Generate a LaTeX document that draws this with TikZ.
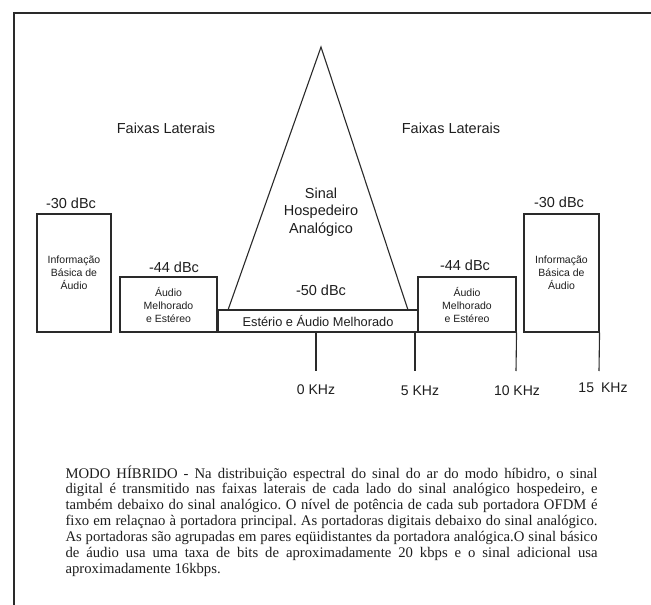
\documentclass[tikz,border=0pt]{standalone}
\usepackage{fontspec}
\setmainfont{Liberation Serif}
\newfontfamily\arialf{Liberation Sans}
\definecolor{ink}{HTML}{2A2A2A}
\definecolor{txt}{HTML}{1E1E1E}
\begin{document}
\begin{tikzpicture}[x=1pt,y=-1pt,
  line width=1.1pt, draw=ink,
  lbl/.style={font=\arialf\fontsize{14.5}{17}\selectfont, text=txt, inner sep=0pt},
  box/.style={draw=ink, line width=1.1pt, inner sep=0pt, align=center, text=txt,
              font=\arialf\fontsize{10.5}{13}\selectfont},
  tick/.style={draw=ink, line width=1.1pt}]
\useasboundingbox (0,0) rectangle (651,605);
\fill[white] (0,0) rectangle (651,605);
\begin{scope}
  \clip (0,0) rectangle (651,605);
  \draw[line width=2pt] (14,640) -- (14,13) -- (680,13);
\end{scope}

% analog host triangle
\coordinate (apex) at (321,47);
\coordinate (tl) at (228,310);
\coordinate (tr) at (408,310);
\draw (tl) -- (apex) -- (tr);

% boxes
\node[box, minimum width=74pt, minimum height=118pt] (l30) at (74,273) {Informação\\Básica de\\Áudio};
\node[box, minimum width=97pt, minimum height=55pt] (l44) at (168.5,304.5) {Áudio\\Melhorado\\e Estéreo};
\node[box, minimum width=200pt, minimum height=22pt, font=\arialf\fontsize{12.8}{15}\selectfont] (est) at (318,321) {\raisebox{-1pt}{Estério e Áudio Melhorado}};
\node[box, minimum width=98pt, minimum height=55pt] (r44) at (467,304.5) {Áudio\\Melhorado\\e Estéreo};
\node[box, minimum width=75pt, minimum height=118pt] (r30) at (561.5,273) {Informação\\Básica de\\Áudio};

% level labels
\node[lbl] (t30l) at (71,203) {-30 dBc};
\node[lbl] (t44l) at (174,267) {-44 dBc};
\node[lbl] (t50) at (321,290) {-50 dBc};
\node[lbl] (t44r) at (465,265) {-44 dBc};
\node[lbl] (t30r) at (559,202) {-30 dBc};

\node[lbl] (fl) at (166,128) {Faixas Laterais};
\node[lbl] (fr) at (451,128) {Faixas Laterais};
\node[lbl, align=center, font=\arialf\fontsize{14.5}{17.5}\selectfont] (host) at (321,212) {Sinal\\Hospedeiro\\Analógico};

% frequency ticks
\coordinate (k0) at (316,371);
\coordinate (k5) at (415,371);
\coordinate (k10) at (516,371);
\coordinate (k15) at (599,371);
\draw[tick] (est.south -| k0) -- (k0);
\draw[tick] (est.south -| k5) -- (k5);
\draw[tick] (r44.south east) -- (k10);
\draw[tick] (r30.south east) -- (k15);

\node[lbl, font=\arialf\fontsize{14}{17}\selectfont] (f0) at (316,390) {0 KHz};
\node[lbl, font=\arialf\fontsize{14}{17}\selectfont] (f5) at (420,391) {5 KHz};
\node[lbl, font=\arialf\fontsize{14}{17}\selectfont] (f10) at (517,391) {10 KHz};
\node[lbl, font=\arialf\fontsize{14}{17}\selectfont] (f15) at (603,388) {15\enspace KHz};

% description
\node[anchor=base west, text width=532pt, align=justify, inner sep=0pt, text=txt,
      font=\fontsize{14.7}{15.85}\selectfont] (para) at (65,478)
{\frenchspacing\lineskiplimit=-20pt\relax\lineskip=0pt\relax
MODO HÍBRIDO - Na distribuição espectral do sinal do ar do modo híbidro, o sinal\linebreak
digital é transmitido nas faixas laterais de cada lado do sinal analógico hospedeiro, e\linebreak
também debaixo do sinal analógico. O nível de potência de cada sub portadora OFDM é\linebreak
fixo em relaçnao à portadora principal. As portadoras digitais debaixo do sinal analógico.\linebreak
As portadoras são agrupadas em pares eqüidistantes da portadora analógica.O sinal básico\linebreak
de áudio usa uma taxa de bits de aproximadamente 20 kbps e o sinal adicional usa\linebreak
aproximadamente 16kbps.};
\end{tikzpicture}
\end{document}
